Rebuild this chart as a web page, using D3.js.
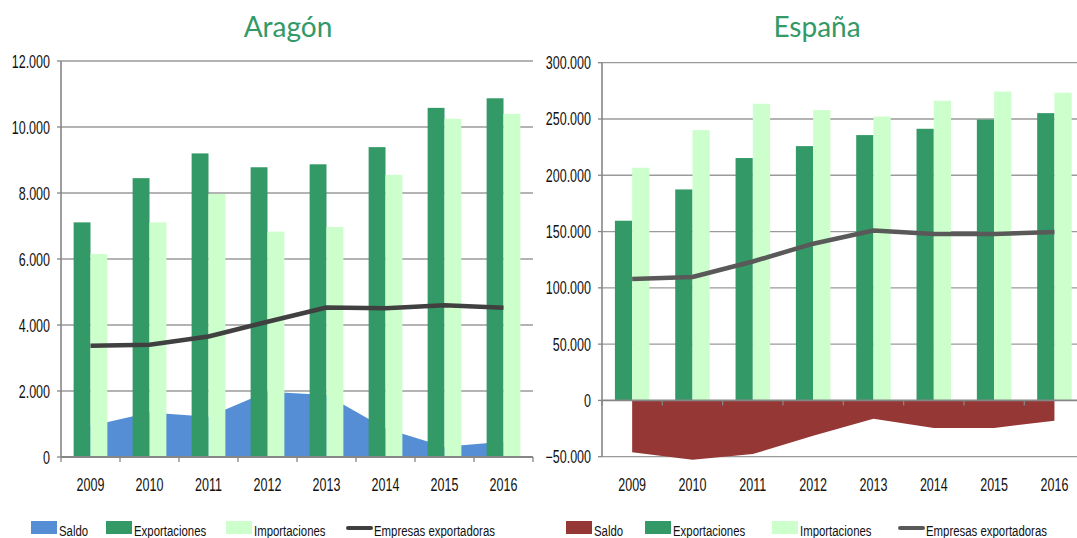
<!DOCTYPE html>
<html>
<head>
<meta charset="utf-8">
<script src="https://cdn.jsdelivr.net/npm/d3@7/dist/d3.min.js"></script>
<style>
  html, body { margin: 0; padding: 0; background: #fff; }
  svg { display: block; }
  .tick-label { font-family: 'Liberation Sans', Arial, sans-serif; fill: #111; }
  .legend-label { font-family: 'Liberation Sans', Arial, sans-serif; font-size: 15px; fill: #111; }
  .title { font-family: Lato, 'Open Sans', sans-serif; font-size: 28px; fill: #339966; }
</style>
</head>
<body>
<svg id="chart" width="1077" height="538"></svg>
<script>
const years = ['2009', '2010', '2011', '2012', '2013', '2014', '2015', '2016']

// Aragón (millones de euros / nº empresas)
const aragonSaldo = [940, 1350, 1220, 1980, 1880, 860, 310, 460]
const aragonExport = [7110, 8450, 9200, 8780, 8870, 9390, 10580, 10870]
const aragonImport = [6150, 7110, 7970, 6830, 6970, 8550, 10250, 10400]
const aragonEmpresas = [3370, 3400, 3650, 4100, 4530, 4510, 4600, 4520]
const aragonTicks = [0, 2000, 4000, 6000, 8000, 10000, 12000]

// España
const espanaSaldo = [-46000, -52700, -47600, -31500, -16300, -24500, -24500, -18000]
const espanaExport = [159600, 187400, 215300, 225900, 235700, 241300, 249500, 255200]
const espanaImport = [206700, 240100, 263500, 257900, 252200, 266200, 274400, 273300]
const espanaEmpresas = [107800, 109600, 123400, 139200, 151000, 147800, 147800, 149500]
const espanaTicks = [-50000, 0, 50000, 100000, 150000, 200000, 250000, 300000]

const legendNames = ['Saldo', 'Exportaciones', 'Importaciones', 'Empresas exportadoras']

const colors = {
  export: '#339966',
  import: '#ccffcc',
  axis: '#868686',
  grid: '#9a9a9a',
}

const esLocale = d3.formatLocale({ decimal: ',', thousands: '.', grouping: [3], currency: ['', ' €'] })
const fmt = esLocale.format(',d')

const svg = d3.select('#chart')

drawPanel({
  title: 'Aragón',
  titleX: 288,
  left: 61,
  right: 533,
  top: 61,
  bottom: 457,
  ticks: aragonTicks,
  saldo: aragonSaldo,
  exp: aragonExport,
  imp: aragonImport,
  empresas: aragonEmpresas,
  saldoColor: '#558ed5',
  lineColor: '#404040',
  legendX: [31, 106, 226, 346],
})

drawPanel({
  title: 'España',
  titleX: 817,
  left: 602,
  right: 1084.6,
  top: 62.7,
  bottom: 456.7,
  ticks: espanaTicks,
  saldo: espanaSaldo,
  exp: espanaExport,
  imp: espanaImport,
  empresas: espanaEmpresas,
  saldoColor: '#953735',
  lineColor: '#595959',
  legendX: [566, 645, 772, 898],
})

function drawPanel(cfg) {
  let { left, right, top, bottom, ticks } = cfg
  let g = svg.append('g')

  let x = d3.scaleBand().domain(years).range([left, right]).padding(0)
  let y = d3.scaleLinear().domain(d3.extent(ticks)).range([bottom, top])
  let bw = x.bandwidth()
  let barW = bw * 0.286
  let cx = (d) => x(d) + bw / 2

  // title
  g.append('text')
    .attr('class', 'title')
    .attr('x', cfg.titleX)
    .attr('y', 37)
    .attr('text-anchor', 'middle')
    .text(cfg.title)

  // gridlines
  g.append('g')
    .selectAll('line')
    .data(ticks.filter(t => t !== 0))
    .join('line')
    .attr('x1', left)
    .attr('x2', right)
    .attr('y1', d => y(d))
    .attr('y2', d => y(d))
    .attr('stroke', colors.grid)
    .attr('stroke-width', 1.3)

  // saldo area (behind the bars)
  let area = d3.area()
    .x((d, i) => cx(years[i]))
    .y0(y(0))
    .y1(d => y(d))
  g.append('path')
    .attr('d', area(cfg.saldo))
    .attr('fill', cfg.saldoColor)

  // bars
  g.append('g')
    .selectAll('rect')
    .data(cfg.exp)
    .join('rect')
    .attr('x', (d, i) => cx(years[i]) - barW)
    .attr('y', d => y(d))
    .attr('width', barW)
    .attr('height', d => y(0) - y(d))
    .attr('fill', colors.export)

  g.append('g')
    .selectAll('rect')
    .data(cfg.imp)
    .join('rect')
    .attr('x', (d, i) => cx(years[i]))
    .attr('y', d => y(d))
    .attr('width', barW)
    .attr('height', d => y(0) - y(d))
    .attr('fill', colors.import)

  // empresas line
  let line = d3.line()
    .x((d, i) => cx(years[i]))
    .y(d => y(d))
  g.append('path')
    .attr('d', line(cfg.empresas))
    .attr('fill', 'none')
    .attr('stroke', cfg.lineColor)
    .attr('stroke-width', 4.5)
    .attr('stroke-linejoin', 'round')

  // y axis
  g.append('line')
    .attr('x1', left).attr('x2', left)
    .attr('y1', bottom).attr('y2', top)
    .attr('stroke', colors.axis)
    .attr('stroke-width', 1.6)
  g.append('g')
    .selectAll('line')
    .data(ticks)
    .join('line')
    .attr('x1', left - 4)
    .attr('x2', left)
    .attr('y1', d => y(d))
    .attr('y2', d => y(d))
    .attr('stroke', colors.axis)
    .attr('stroke-width', 1.3)
  g.append('g')
    .selectAll('text')
    .data(ticks)
    .join('text')
    .attr('class', 'tick-label')
    .attr('text-anchor', 'end')
    .attr('font-size', 17.5)
    .attr('transform', d => `translate(${left - 11},${y(d) + 6.5}) scale(0.715,1)`)
    .text(d => fmt(d))

  // x axis at zero
  let y0 = y(0)
  g.append('line')
    .attr('x1', left).attr('x2', right)
    .attr('y1', y0).attr('y2', y0)
    .attr('stroke', colors.axis)
    .attr('stroke-width', 1.8)
  let bounds = years.map(d => x(d)).concat([right])
  g.append('g')
    .selectAll('line')
    .data(bounds)
    .join('line')
    .attr('x1', d => d).attr('x2', d => d)
    .attr('y1', y0).attr('y2', y0 + 5)
    .attr('stroke', colors.axis)
    .attr('stroke-width', 1.3)
  g.append('g')
    .selectAll('text')
    .data(years)
    .join('text')
    .attr('class', 'tick-label')
    .attr('text-anchor', 'middle')
    .attr('font-size', 17.5)
    .attr('transform', d => `translate(${cx(d)},${491}) scale(0.715,1)`)
    .text(d => d)

  // legend
  let lg = g.append('g')
  let swatches = [cfg.saldoColor, colors.export, colors.import]
  legendNames.forEach((name, i) => {
    let lx = cfg.legendX[i]
    if (i < 3) {
      lg.append('rect')
        .attr('x', lx).attr('y', 521)
        .attr('width', 26).attr('height', 13)
        .attr('fill', swatches[i])
    } else {
      lg.append('line')
        .attr('x1', lx + 2).attr('x2', lx + 25)
        .attr('y1', 528).attr('y2', 528)
        .attr('stroke', cfg.lineColor)
        .attr('stroke-width', 4)
        .attr('stroke-linecap', 'round')
    }
    lg.append('text')
      .attr('class', 'legend-label')
      .attr('transform', `translate(${lx + 28},535.5) scale(0.76,1)`)
      .text(name)
  })
}
</script>
</body>
</html>
